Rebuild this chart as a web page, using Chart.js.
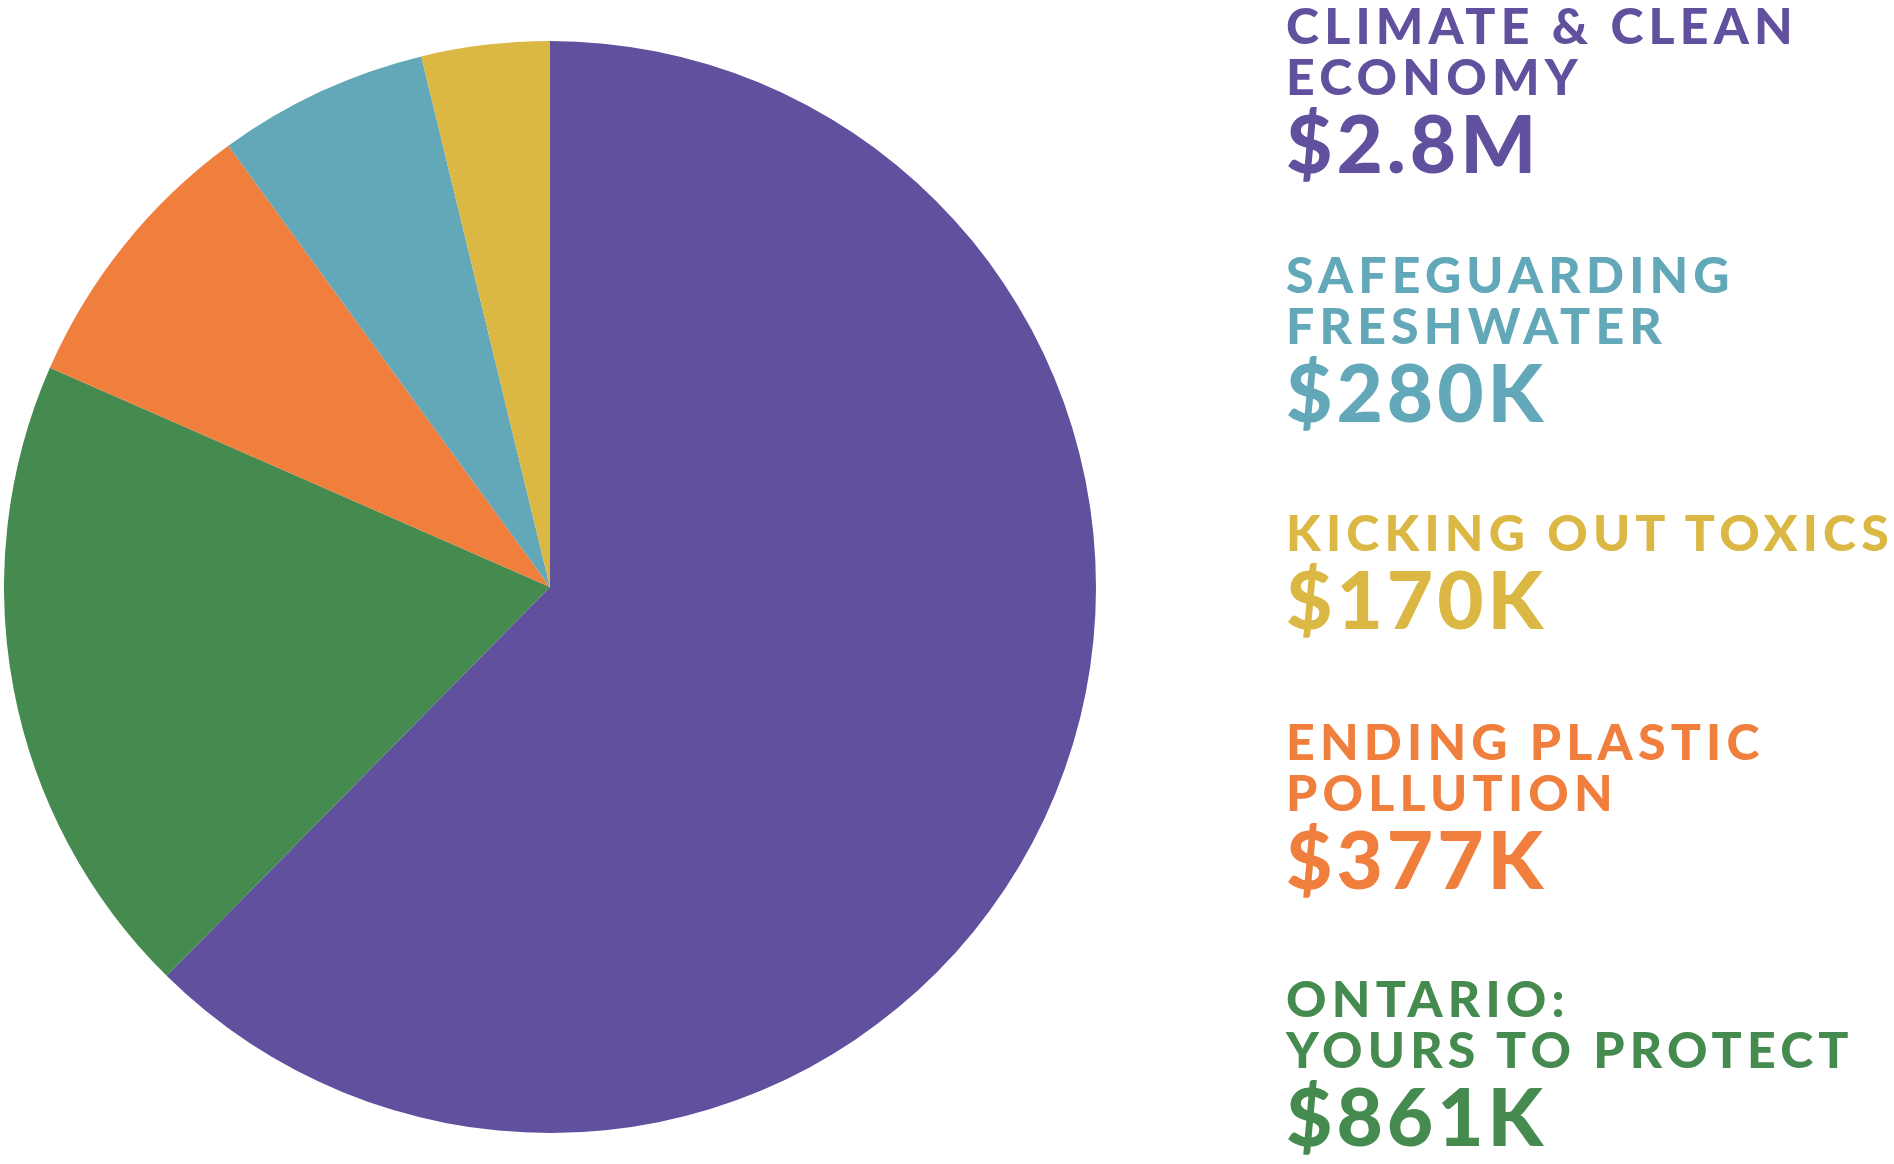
<!DOCTYPE html>
<html>
<head>
<meta charset="utf-8">
<script src="https://cdn.jsdelivr.net/npm/chart.js@4/dist/chart.umd.min.js"></script>
<style>
  html, body { margin:0; padding:0; background:#fff; }
  body { width:1894px; height:1164px; position:relative; overflow:hidden; font-family:Lato, "Open Sans", sans-serif; }
  #pieBox { position:absolute; left:4px; top:41px; width:1092px; height:1092px; }
  #legend { position:absolute; left:0; top:0; }
  .line { position:absolute; left:1286px; white-space:nowrap; line-height:1; }
  .lbl { font-size:50px; font-weight:900; letter-spacing:0.104em; }
  .amt { font-size:80px; font-weight:900; letter-spacing:0.05em; }
</style>
</head>
<body>
<div id="pieBox"><canvas id="pieChart"></canvas></div>
<div id="legend"></div>
<script>
// slices in drawing order, clockwise from 12 o'clock
const categories = ['Climate & Clean Economy', 'Ontario: Yours to Protect', 'Ending Plastic Pollution', 'Safeguarding Freshwater', 'Kicking Out Toxics'];
const amounts = [2800, 861, 377, 280, 170]; // thousands of dollars
const amountLabels = ['$2.8M', '$861K', '$377K', '$280K', '$170K'];
const sliceColors = ['#61509E', '#458B4F', '#F07E3C', '#62A8B8', '#DBB743'];

// legend text, top to bottom
const legendOrder = [0, 3, 4, 2, 1];
const legendLines = [
  ['CLIMATE & CLEAN', 'ECONOMY'],
  ['ONTARIO:', 'YOURS TO PROTECT'],
  ['ENDING PLASTIC', 'POLLUTION'],
  ['SAFEGUARDING', 'FRESHWATER'],
  ['KICKING OUT TOXICS']
];

(function() {

  // baseline of each group's first line
  const groupBase = [44, 293, 551, 760, 1017];
  const LBL = 50, AMT = 80, ASC = 0.887;
  const legend = document.getElementById('legend');

  function addLine(text, cls, size, baseline, color) {
    const d = document.createElement('div');
    d.className = 'line ' + cls;
    d.textContent = text;
    d.style.color = color;
    d.style.top = (baseline - ASC * size) + 'px';
    legend.appendChild(d);
  }

  legendOrder.forEach((idx, g) => {
    let y = groupBase[g];
    const lines = legendLines[idx];
    lines.forEach((t, i) => {
      if (i > 0) y += 51;
      addLine(t, 'lbl', LBL, y, sliceColors[idx]);
    });
    addLine(amountLabels[idx], 'amt', AMT, y + 78, sliceColors[idx]);
  });

  new Chart(document.getElementById('pieChart'), {
    type: 'pie',
    data: {
      labels: categories,
      datasets: [{ data: amounts, backgroundColor: sliceColors, borderWidth: 0 }]
    },
    options: {
      responsive: true,
      maintainAspectRatio: false,
      animation: false,
      layout: { padding: 0 },
      plugins: { legend: { display: false }, tooltip: { enabled: false } }
    }
  });

})();
</script>
</body>
</html>
